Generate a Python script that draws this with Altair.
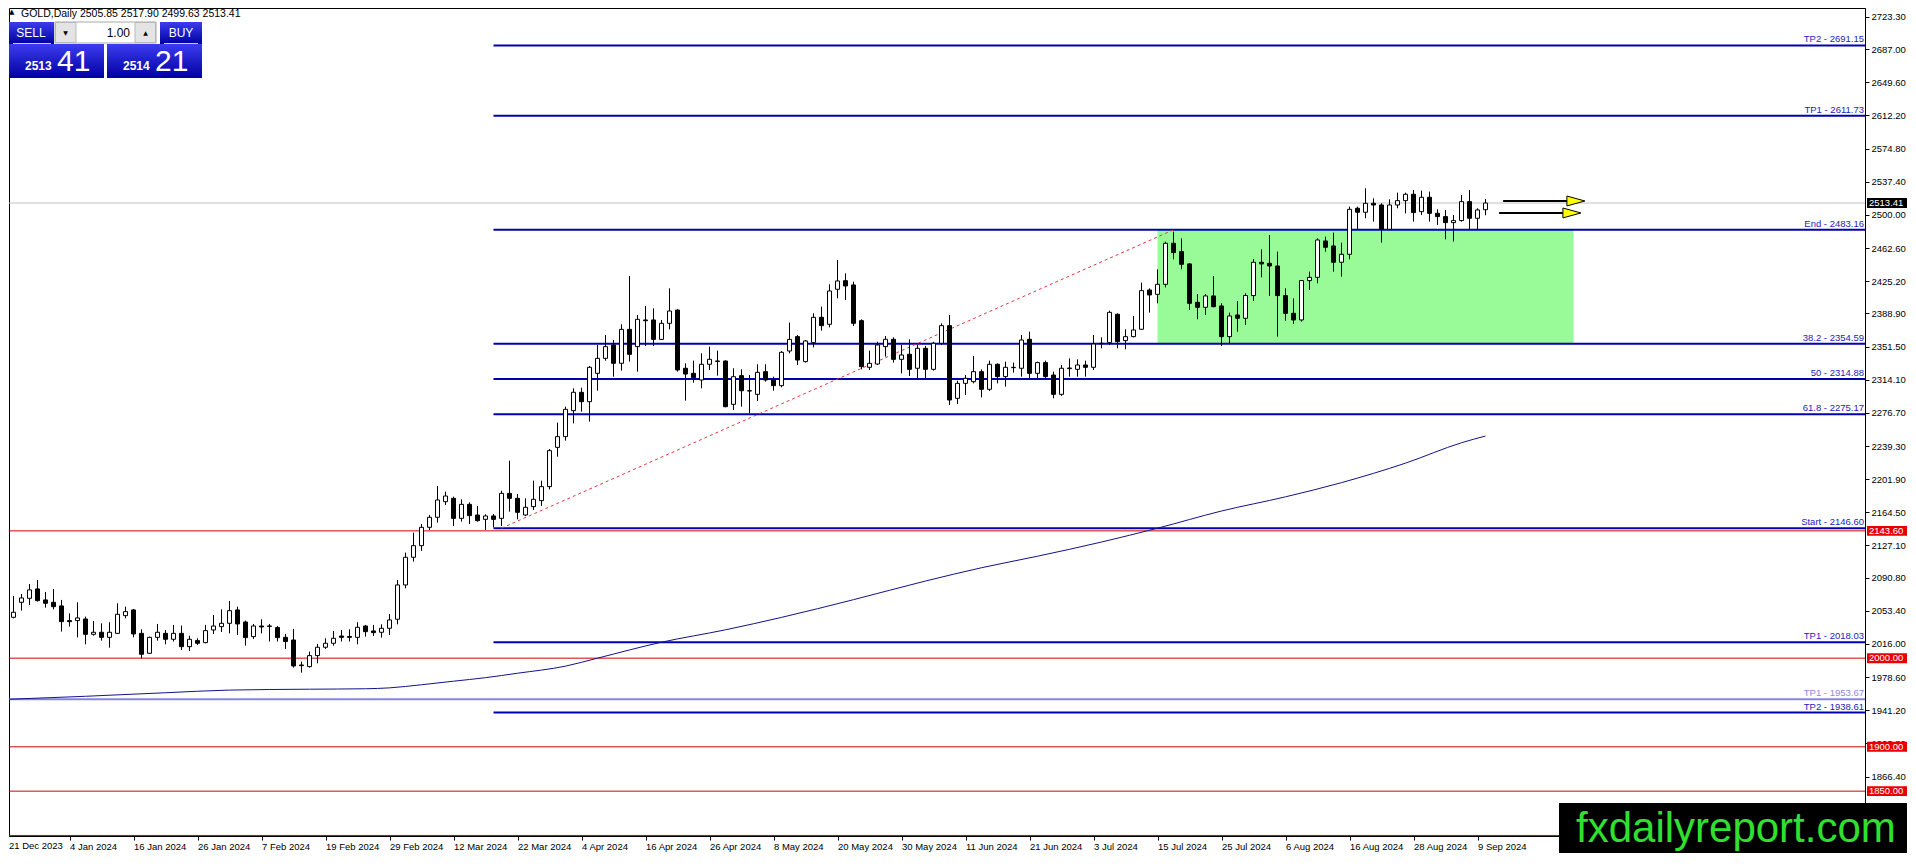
import altair as alt
import pandas as pd

# ---------------- data ----------------
opens = [2031.0, 2046.1, 2063.0, 2067.5, 2078.1, 2065.7, 2063.0, 2058.9, 2042.4, 2042.4,
         2044.2, 2026.9, 2029.2, 2023.5, 2028.0, 2048.0, 2054.4, 2028.0, 2005.5, 2023.5,
         2028.0, 2021.3, 2028.0, 2013.0, 2019.8, 2017.5, 2031.8, 2035.6, 2039.3, 2054.4,
         2040.8, 2024.3, 2036.3, 2036.3, 2034.5, 2023.5, 2020.5, 1992.3, 1990.5, 2002.9,
         2012.3, 2016.8, 2025.0, 2024.5, 2023.5, 2036.3, 2030.7, 2029.2, 2033.7, 2043.9,
         2082.6, 2113.8, 2126.9, 2147.6, 2158.9, 2176.5, 2180.3, 2157.7, 2173.5, 2161.5,
         2156.6, 2160.4, 2157.7, 2185.9, 2180.3, 2161.5, 2170.9, 2177.7, 2193.5, 2237.8,
         2249.9, 2279.2, 2299.9, 2289.3, 2321.3, 2338.2, 2353.3, 2332.6, 2370.9, 2351.4,
         2381.5, 2381.5, 2359.6, 2377.7, 2392.7, 2327.0, 2321.3, 2313.8, 2331.5, 2335.2,
         2335.2, 2286.3, 2318.7, 2301.7, 2297.6, 2323.2, 2313.8, 2307.4, 2346.5, 2362.7,
         2334.5, 2355.9, 2384.5, 2376.6, 2416.1, 2425.8, 2421.0, 2380.7, 2328.1, 2331.8,
         2351.4, 2359.7, 2337.1, 2342.8, 2327.0, 2349.5, 2325.8, 2355.2, 2375.1, 2293.1,
         2310.0, 2311.9, 2323.2, 2303.3, 2331.5, 2317.6, 2327.7, 2327.0, 2359.7, 2321.3,
         2333.4, 2319.4, 2297.6, 2326.6, 2325.8, 2330.7, 2328.1, 2354.8, 2355.9, 2387.9,
         2358.2, 2362.7, 2371.0, 2415.3, 2410.4, 2421.7, 2468.0, 2458.6, 2444.7, 2401.4,
         2395.8, 2408.6, 2397.3, 2362.7, 2387.1, 2383.4, 2409.0, 2446.6, 2445.4, 2442.4,
         2409.0, 2389.0, 2381.5, 2425.9, 2429.6, 2470.6, 2465.0, 2446.6, 2455.6, 2507.5,
         2503.0, 2513.1, 2511.2, 2483.8, 2511.2, 2516.1, 2523.3, 2503.7, 2519.9, 2501.8,
         2498.1, 2491.3, 2493.6, 2515.0, 2496.2, 2505.85]
highs = [2047.0, 2070.2, 2072.4, 2083.7, 2088.2, 2074.7, 2078.1, 2065.7, 2050.6, 2063.0,
         2046.9, 2042.0, 2039.3, 2040.5, 2061.9, 2058.1, 2055.5, 2032.6, 2024.3, 2038.6,
         2031.8, 2037.5, 2036.7, 2025.4, 2022.4, 2037.5, 2048.7, 2055.1, 2064.5, 2058.1,
         2042.4, 2038.6, 2043.9, 2038.6, 2036.3, 2027.3, 2033.0, 1996.1, 2007.4, 2016.0,
         2022.4, 2030.7, 2031.8, 2032.6, 2040.5, 2037.5, 2037.5, 2038.2, 2049.9, 2088.2,
         2119.1, 2141.6, 2151.4, 2161.5, 2194.2, 2187.8, 2182.2, 2179.2, 2175.8, 2171.7,
         2162.3, 2162.6, 2188.9, 2222.8, 2185.2, 2180.3, 2200.2, 2200.2, 2235.9, 2265.7,
         2283.7, 2304.4, 2305.1, 2329.6, 2353.3, 2364.5, 2358.9, 2376.6, 2431.1, 2387.1,
         2397.3, 2394.6, 2381.5, 2417.2, 2393.5, 2332.6, 2335.6, 2343.9, 2351.4, 2346.9,
         2335.9, 2327.0, 2325.8, 2319.4, 2331.5, 2331.5, 2317.5, 2346.5, 2378.5, 2364.5,
         2358.9, 2389.0, 2396.5, 2421.7, 2449.2, 2434.1, 2424.7, 2382.2, 2346.9, 2357.0,
         2363.4, 2361.9, 2353.3, 2359.7, 2353.3, 2352.2, 2357.0, 2377.7, 2387.1, 2313.0,
         2319.4, 2340.9, 2325.8, 2335.6, 2332.6, 2334.5, 2333.4, 2364.6, 2368.3, 2334.5,
         2335.6, 2323.2, 2330.7, 2338.2, 2337.1, 2335.6, 2364.6, 2361.9, 2392.0, 2389.0,
         2371.0, 2386.0, 2423.6, 2417.2, 2438.6, 2469.8, 2481.1, 2473.6, 2445.5, 2410.8,
         2410.8, 2431.1, 2400.3, 2389.8, 2402.9, 2411.6, 2450.3, 2461.2, 2477.4, 2458.6,
         2417.2, 2405.9, 2426.6, 2436.0, 2473.6, 2475.5, 2480.0, 2468.7, 2509.3, 2509.3,
         2530.0, 2518.7, 2513.1, 2517.6, 2525.1, 2525.1, 2528.1, 2527.4, 2526.3, 2506.3,
         2505.6, 2499.9, 2522.5, 2528.1, 2507.5, 2517.90]
lows = [2028.0, 2045.0, 2053.6, 2060.0, 2063.8, 2057.0, 2055.1, 2030.0, 2035.6, 2023.5,
        2015.6, 2025.4, 2019.8, 2011.9, 2027.3, 2045.0, 2023.5, 1999.9, 2004.8, 2019.8,
        2015.6, 2018.7, 2009.3, 2008.1, 2014.9, 2016.8, 2027.3, 2029.6, 2028.0, 2026.2,
        2014.1, 2021.7, 2028.0, 2018.7, 2018.7, 2010.4, 1989.3, 1983.7, 1989.3, 1994.2,
        2010.4, 2014.1, 2018.7, 2018.7, 2015.6, 2024.3, 2025.0, 2023.2, 2026.2, 2038.2,
        2078.8, 2108.9, 2121.0, 2144.6, 2152.9, 2172.8, 2149.1, 2154.0, 2151.4, 2154.0,
        2144.6, 2147.6, 2149.1, 2165.3, 2156.6, 2160.4, 2167.1, 2171.7, 2190.4, 2227.3,
        2245.4, 2264.9, 2278.1, 2266.8, 2301.7, 2335.6, 2317.5, 2324.3, 2334.5, 2323.2,
        2352.1, 2352.1, 2358.9, 2370.9, 2323.2, 2290.5, 2310.8, 2304.4, 2325.1, 2318.7,
        2283.0, 2279.9, 2283.7, 2276.2, 2290.1, 2311.9, 2301.7, 2305.5, 2343.9, 2330.7,
        2333.4, 2350.6, 2369.4, 2373.2, 2405.9, 2404.0, 2374.7, 2325.8, 2325.1, 2330.7,
        2340.1, 2333.4, 2321.3, 2318.3, 2313.8, 2315.7, 2324.3, 2353.3, 2285.6, 2286.7,
        2296.9, 2310.0, 2294.2, 2301.4, 2310.0, 2306.3, 2322.1, 2317.6, 2315.7, 2315.7,
        2315.7, 2293.1, 2295.8, 2317.6, 2317.6, 2317.6, 2325.1, 2349.5, 2353.3, 2349.5,
        2348.4, 2361.9, 2370.2, 2389.8, 2400.3, 2418.3, 2449.9, 2438.7, 2392.8, 2382.3,
        2387.1, 2395.8, 2352.2, 2355.2, 2368.3, 2375.9, 2402.9, 2429.6, 2408.6, 2362.7,
        2380.7, 2377.0, 2379.6, 2415.3, 2422.9, 2458.6, 2436.0, 2430.4, 2449.9, 2483.8,
        2496.2, 2492.4, 2468.7, 2483.0, 2507.5, 2501.8, 2492.4, 2499.9, 2492.4, 2488.7,
        2472.5, 2469.9, 2492.4, 2483.0, 2483.0, 2499.63]
closes = [2045.0, 2051.8, 2067.9, 2077.0, 2064.9, 2061.9, 2058.1, 2041.2, 2041.2, 2045.4,
          2026.9, 2029.2, 2023.5, 2029.2, 2049.5, 2052.5, 2027.3, 2004.4, 2023.5, 2029.2,
          2021.3, 2028.0, 2013.0, 2021.3, 2016.8, 2031.1, 2036.3, 2039.3, 2053.6, 2038.6,
          2023.2, 2036.3, 2035.2, 2035.9, 2023.2, 2018.7, 1991.2, 1991.6, 2002.9, 2012.3,
          2016.8, 2022.4, 2023.5, 2023.5, 2034.8, 2029.9, 2028.8, 2033.7, 2043.1, 2082.6,
          2113.8, 2126.9, 2147.6, 2158.9, 2178.4, 2182.9, 2157.7, 2173.5, 2160.8, 2155.1,
          2160.4, 2156.6, 2185.9, 2180.3, 2164.5, 2170.2, 2179.2, 2193.5, 2234.1, 2249.9,
          2280.7, 2299.9, 2289.3, 2328.1, 2338.2, 2351.4, 2332.6, 2370.9, 2342.7, 2382.2,
          2380.7, 2359.6, 2377.7, 2391.6, 2325.1, 2320.5, 2316.4, 2331.5, 2337.1, 2334.8,
          2283.7, 2317.5, 2301.7, 2301.4, 2322.4, 2313.8, 2307.4, 2345.0, 2359.6, 2336.3,
          2357.8, 2384.5, 2375.1, 2414.2, 2425.5, 2419.8, 2377.7, 2328.8, 2332.6, 2353.3,
          2359.7, 2337.1, 2342.0, 2325.8, 2349.5, 2325.8, 2355.2, 2375.1, 2291.2, 2310.0,
          2315.7, 2323.2, 2303.3, 2331.5, 2317.6, 2328.1, 2328.1, 2358.9, 2321.3, 2333.4,
          2317.6, 2297.6, 2327.0, 2327.3, 2330.7, 2328.1, 2354.4, 2355.2, 2390.1, 2357.0,
          2362.7, 2370.2, 2414.6, 2409.7, 2421.7, 2468.0, 2457.5, 2444.3, 2400.3, 2395.8,
          2408.6, 2396.5, 2362.7, 2386.0, 2383.4, 2409.0, 2446.6, 2444.7, 2442.4, 2409.0,
          2389.0, 2381.5, 2425.9, 2429.6, 2471.7, 2463.5, 2446.6, 2455.6, 2506.3, 2503.0,
          2513.1, 2511.2, 2483.8, 2511.2, 2516.1, 2523.3, 2502.6, 2519.9, 2501.8, 2498.1,
          2491.3, 2493.6, 2515.0, 2496.2, 2505.6, 2513.41]

date_labels = ["21 Dec 2023", "4 Jan 2024", "16 Jan 2024", "26 Jan 2024", "7 Feb 2024",
               "19 Feb 2024", "29 Feb 2024", "12 Mar 2024", "22 Mar 2024", "4 Apr 2024",
               "16 Apr 2024", "26 Apr 2024", "8 May 2024", "20 May 2024", "30 May 2024",
               "11 Jun 2024", "21 Jun 2024", "3 Jul 2024", "15 Jul 2024", "25 Jul 2024",
               "6 Aug 2024", "16 Aug 2024", "28 Aug 2024", "9 Sep 2024"]
date_step = 8
date_idx = [k * date_step for k in range(len(date_labels))]

# 1829.00 / 1800.00 sit under the watermark in the reference, so they are not listed
y_ticks = [2723.30, 2687.00, 2649.60, 2612.20, 2574.80, 2537.40, 2500.00, 2462.60, 2425.20,
           2388.90, 2351.50, 2314.10, 2276.70, 2239.30, 2201.90, 2164.50, 2127.10, 2090.80,
           2053.40, 2016.00, 1978.60, 1941.20, 1903.80, 1866.40]

fib_names = ["TP2", "TP1", "End", "38.2", "50", "61.8", "Start", "TP1", "TP2"]
fib_values = [2691.15, 2611.73, 2483.16, 2354.59, 2314.88, 2275.17, 2146.60, 2018.03, 1938.61]
fib_start_idx = 61
light_name = "TP1"
light_value = 1953.67

red_levels = [2143.60, 2000.00, 1900.00, 1850.00, 1800.00]
red_labelled = [2143.60, 2000.00, 1900.00, 1850.00]
current_price = 2513.41
header_ohlc = [2505.85, 2517.90, 2499.63, 2513.41]
bid_big, bid_small = "41", "2513"
ask_big, ask_small = "21", "2514"
lot = "1.00"

ma_idx = [0, 10, 20, 28, 38, 45, 48, 52, 56, 60, 64, 70, 74, 82, 90, 97, 106, 115, 122, 129,
          137, 144, 152, 160, 167, 175, 182, 185]
ma_val = [1953.5, 1957.0, 1961.0, 1964.0, 1965.0, 1965.5, 1966.5, 1970.0, 1974.0, 1978.0,
          1983.0, 1991.0, 2000.0, 2018.0, 2032.0, 2046.0, 2066.0, 2087.0, 2102.0, 2115.0,
          2131.0, 2146.6, 2166.0, 2182.0, 2198.0, 2220.0, 2243.0, 2250.6]

zone_idx = [144, 196]
zone_price = [2354.59, 2483.16]
trend_idx = [62, 146]
trend_price = [2146.60, 2483.16]

arrow_from = [187.2, 186.7]
arrow_to = [195.2, 194.7]
arrow_head = [196.3, 195.8]
arrow_price = [2515.7, 2502.2]

# ---------------- layout ----------------
W, H = 1856, 828
X0, X1 = 0.4375, 232.4375
Y0, Y1 = 1799.4, 2733.4
FONT = "Liberation Sans"
BLUE = "#0000b0"
BLUE_TXT = "#1c1cc0"

xs = alt.Scale(domain=[X0, X1], nice=False, zero=False)
ys = alt.Scale(domain=[Y0, Y1], nice=False, zero=False)

candles = pd.DataFrame({"i": list(range(len(opens))), "o": opens, "h": highs, "l": lows, "c": closes})
candles["top"] = candles[["o", "c"]].max(axis=1)
candles["bot"] = candles[["o", "c"]].min(axis=1)
candles["x0"] = candles["i"] - 0.25
candles["x1"] = candles["i"] + 0.25

label_js = "[" + ",".join("'%s'" % s for s in date_labels) + "]"

x_axis = alt.Axis(values=date_idx, labelExpr=label_js + "[round(datum.value/%d)]" % date_step,
                  title=None, grid=False, orient="bottom", labelAlign="left", labelFont=FONT,
                  labelFontSize=9.5, labelColor="black", tickColor="black", domainColor="black",
                  tickSize=4, labelPadding=1, labelFlush=False, labelOverlap=False)
y_axis = alt.Axis(values=y_ticks, format=".2f", title=None, grid=False, orient="right",
                  labelFont=FONT, labelFontSize=9.5, labelColor="black", tickColor="black",
                  domainColor="black", tickSize=4, labelPadding=2, labelOverlap=False)


def X(f):
    return alt.X(f, scale=xs, axis=x_axis)


def Y(f):
    return alt.Y(f, scale=ys, axis=y_axis)


layers = []

# zone rectangle
zone = pd.DataFrame({"a": [zone_idx[0]], "b": [zone_idx[1]], "p": [zone_price[0]], "q": [zone_price[1]]})
layers.append(alt.Chart(zone).mark_rect(color="#98FB98").encode(
    x=X("a:Q"), x2="b:Q", y=Y("p:Q"), y2="q:Q"))

# red horizontal levels
red_df = pd.DataFrame({"p": red_levels})
layers.append(alt.Chart(red_df).mark_rule(color="#d00000", strokeWidth=1).encode(
    x=alt.value(0), x2=alt.value(W), y=Y("p:Q")))

# current price line
cur_df = pd.DataFrame({"p": [current_price]})
layers.append(alt.Chart(cur_df).mark_rule(color="#c0c0c0", strokeWidth=1).encode(
    x=alt.value(0), x2=alt.value(W), y=Y("p:Q")))

# light level line
light_df = pd.DataFrame({"p": [light_value], "t": ["%s - %.2f" % (light_name, light_value)]})
layers.append(alt.Chart(light_df).mark_rule(color="#8484e6", strokeWidth=2).encode(
    x=alt.value(0), x2=alt.value(W), y=Y("p:Q")))

# fib lines
fib_df = pd.DataFrame({"p": fib_values, "s": [fib_start_idx] * len(fib_values),
                       "t": ["%s - %.2f" % (n, v) for n, v in zip(fib_names, fib_values)]})
layers.append(alt.Chart(fib_df).mark_rule(color=BLUE, strokeWidth=2).encode(
    x=X("s:Q"), x2=alt.value(W), y=Y("p:Q")))

# moving average
ma_df = pd.DataFrame({"i": ma_idx, "v": ma_val})
layers.append(alt.Chart(ma_df).mark_line(color="#12128c", strokeWidth=1, interpolate="monotone", clip=True).encode(
    x=X("i:Q"), y=Y("v:Q")))

# trend (fibo anchor) dashed line
tr_df = pd.DataFrame({"i": trend_idx, "v": trend_price})
layers.append(alt.Chart(tr_df).mark_line(color="#e03a3a", strokeWidth=1, strokeDash=[3, 3]).encode(
    x=X("i:Q"), y=Y("v:Q")))

# wicks
layers.append(alt.Chart(candles).mark_rule(color="black", strokeWidth=1, clip=True).encode(
    x=X("i:Q"), y=Y("l:Q"), y2="h:Q"))

# bodies
layers.append(alt.Chart(candles).mark_rect(stroke="black", strokeWidth=1, clip=True).encode(
    x=X("x0:Q"), x2="x1:Q", y=Y("bot:Q"), y2="top:Q",
    fill=alt.condition("datum.c >= datum.o", alt.value("white"), alt.value("black"))))

# arrows
arr_df = pd.DataFrame({"a": arrow_from, "b": arrow_to, "hx": arrow_head, "p": arrow_price})
layers.append(alt.Chart(arr_df).mark_rule(color="black", strokeWidth=2).encode(
    x=X("a:Q"), x2="b:Q", y=Y("p:Q")))
layers.append(alt.Chart(arr_df).mark_point(shape="M -1 -0.55 L 1 0 L -1 0.55 Z", size=324, filled=True,
                                           fill="#ffff00", stroke="black", strokeWidth=1, opacity=1).encode(
    x=X("hx:Q"), y=Y("p:Q")))

# level labels
layers.append(alt.Chart(fib_df).mark_text(align="right", baseline="bottom", dy=-1, font=FONT,
                                          fontSize=9.5, color=BLUE_TXT).encode(
    x=alt.value(W - 1), y=Y("p:Q"), text="t:N"))
layers.append(alt.Chart(light_df).mark_text(align="right", baseline="bottom", dy=-1, font=FONT,
                                            fontSize=9.5, color="#8a8ae0").encode(
    x=alt.value(W - 1), y=Y("p:Q"), text="t:N"))

# price boxes on axis
box_half = 5.6
lab_df = pd.DataFrame({"p": red_labelled})
lab_df["t"] = ["%.2f" % v for v in red_labelled]
lab_df["a"] = lab_df["p"] + box_half
lab_df["b"] = lab_df["p"] - box_half
layers.append(alt.Chart(lab_df).mark_rect(color="#e80000").encode(
    x=alt.value(W + 2), x2=alt.value(W + 42), y=Y("a:Q"), y2="b:Q"))
layers.append(alt.Chart(lab_df).mark_text(align="left", baseline="middle", font=FONT, fontSize=9.5,
                                          color="white").encode(
    x=alt.value(W + 4), y=Y("p:Q"), text="t:N"))
cur_df["t"] = ["%.2f" % current_price]
cur_df["a"] = cur_df["p"] + box_half
cur_df["b"] = cur_df["p"] - box_half
layers.append(alt.Chart(cur_df).mark_rect(color="black").encode(
    x=alt.value(W + 2), x2=alt.value(W + 42), y=Y("a:Q"), y2="b:Q"))
layers.append(alt.Chart(cur_df).mark_text(align="left", baseline="middle", font=FONT, fontSize=9.5,
                                          color="white").encode(
    x=alt.value(W + 4), y=Y("p:Q"), text="t:N"))


def rect(x0, x1, y0, y1, fill, stroke=None):
    kw = {"fill": fill}
    if stroke:
        kw["stroke"] = stroke
        kw["strokeWidth"] = 1
    return alt.Chart(pd.DataFrame({"k": [0]})).mark_rect(**kw).encode(
        x=alt.value(x0), x2=alt.value(x1), y=alt.value(y0), y2=alt.value(y1))


def txt(t, x, y, size, color, align="left", baseline="alphabetic", weight="normal", font=FONT):
    return alt.Chart(pd.DataFrame({"t": [t]})).mark_text(
        align=align, baseline=baseline, fontSize=size, color=color, fontWeight=weight, font=font).encode(
        x=alt.value(x), y=alt.value(y), text="t:N")


def hline(x0, x1, y, color, width=1):
    return alt.Chart(pd.DataFrame({"k": [0]})).mark_rule(color=color, strokeWidth=width).encode(
        x=alt.value(x0), x2=alt.value(x1), y=alt.value(y))


# first date label (its bar sits on the left frame edge)
layers.append(txt(date_labels[0], 0, H + 5, 9.5, "black", baseline="top"))

# watermark
layers.append(rect(W - 306, W + 42, H - 33, H + 17, "black"))
layers.append(txt("fxdailyreport.com", W - 289, H + 6, 42, "#2fe02f"))

# trade panel
grad = {"gradient": "linear", "x1": 0, "y1": 0, "x2": 0, "y2": 1,
        "stops": [{"offset": 0, "color": "#3c3cf0"}, {"offset": 1, "color": "#0000a0"}]}
layers.append(rect(0, 45, 14, 36, grad))
layers.append(rect(151, 193, 14, 36, grad))
layers.append(rect(0, 95, 36, 70, grad))
layers.append(rect(98, 193, 36, 70, grad))
layers.append(rect(46, 147, 14, 35, "#ffffff", "#a8a8a8"))
layers.append(rect(46.5, 67, 14.5, 34.5, "#e4e4e4", "#b8b8b8"))
layers.append(rect(126, 146.5, 14.5, 34.5, "#e4e4e4", "#b8b8b8"))
layers.append(hline(4, 42, 35.5, "#c8c8ff"))
layers.append(hline(155, 189, 35.5, "#c8c8ff"))
layers.append(txt("SELL", 22, 25, 12, "white", align="center", baseline="middle"))
layers.append(txt("BUY", 172, 25, 12, "white", align="center", baseline="middle"))
layers.append(txt(lot, 121, 25, 12, "black", align="right", baseline="middle"))
layers.append(txt("▼", 56.5, 25, 6, "black", align="center", baseline="middle", font="DejaVu Sans"))
layers.append(txt("▲", 136.5, 25, 6, "black", align="center", baseline="middle", font="DejaVu Sans"))
layers.append(txt(bid_small, 16, 62, 12, "white", weight="bold"))
layers.append(txt(bid_big, 48, 63, 30, "white"))
layers.append(txt(ask_small, 114, 62, 12, "white", weight="bold"))
layers.append(txt(ask_big, 146, 63, 30, "white"))

# header
layers.append(txt("▲", 0, 4, 7, "black", baseline="middle", font="DejaVu Sans"))
layers.append(txt("GOLD,Daily  " + " ".join("%.2f" % v for v in header_ohlc), 12, 8.5, 10.5, "black"))

chart = alt.layer(*layers).properties(
    width=W, height=H, padding=0, background="white"
).configure_view(stroke="black", strokeWidth=1)

chart.save("out.html", embed_options={"renderer": "svg", "actions": False})
